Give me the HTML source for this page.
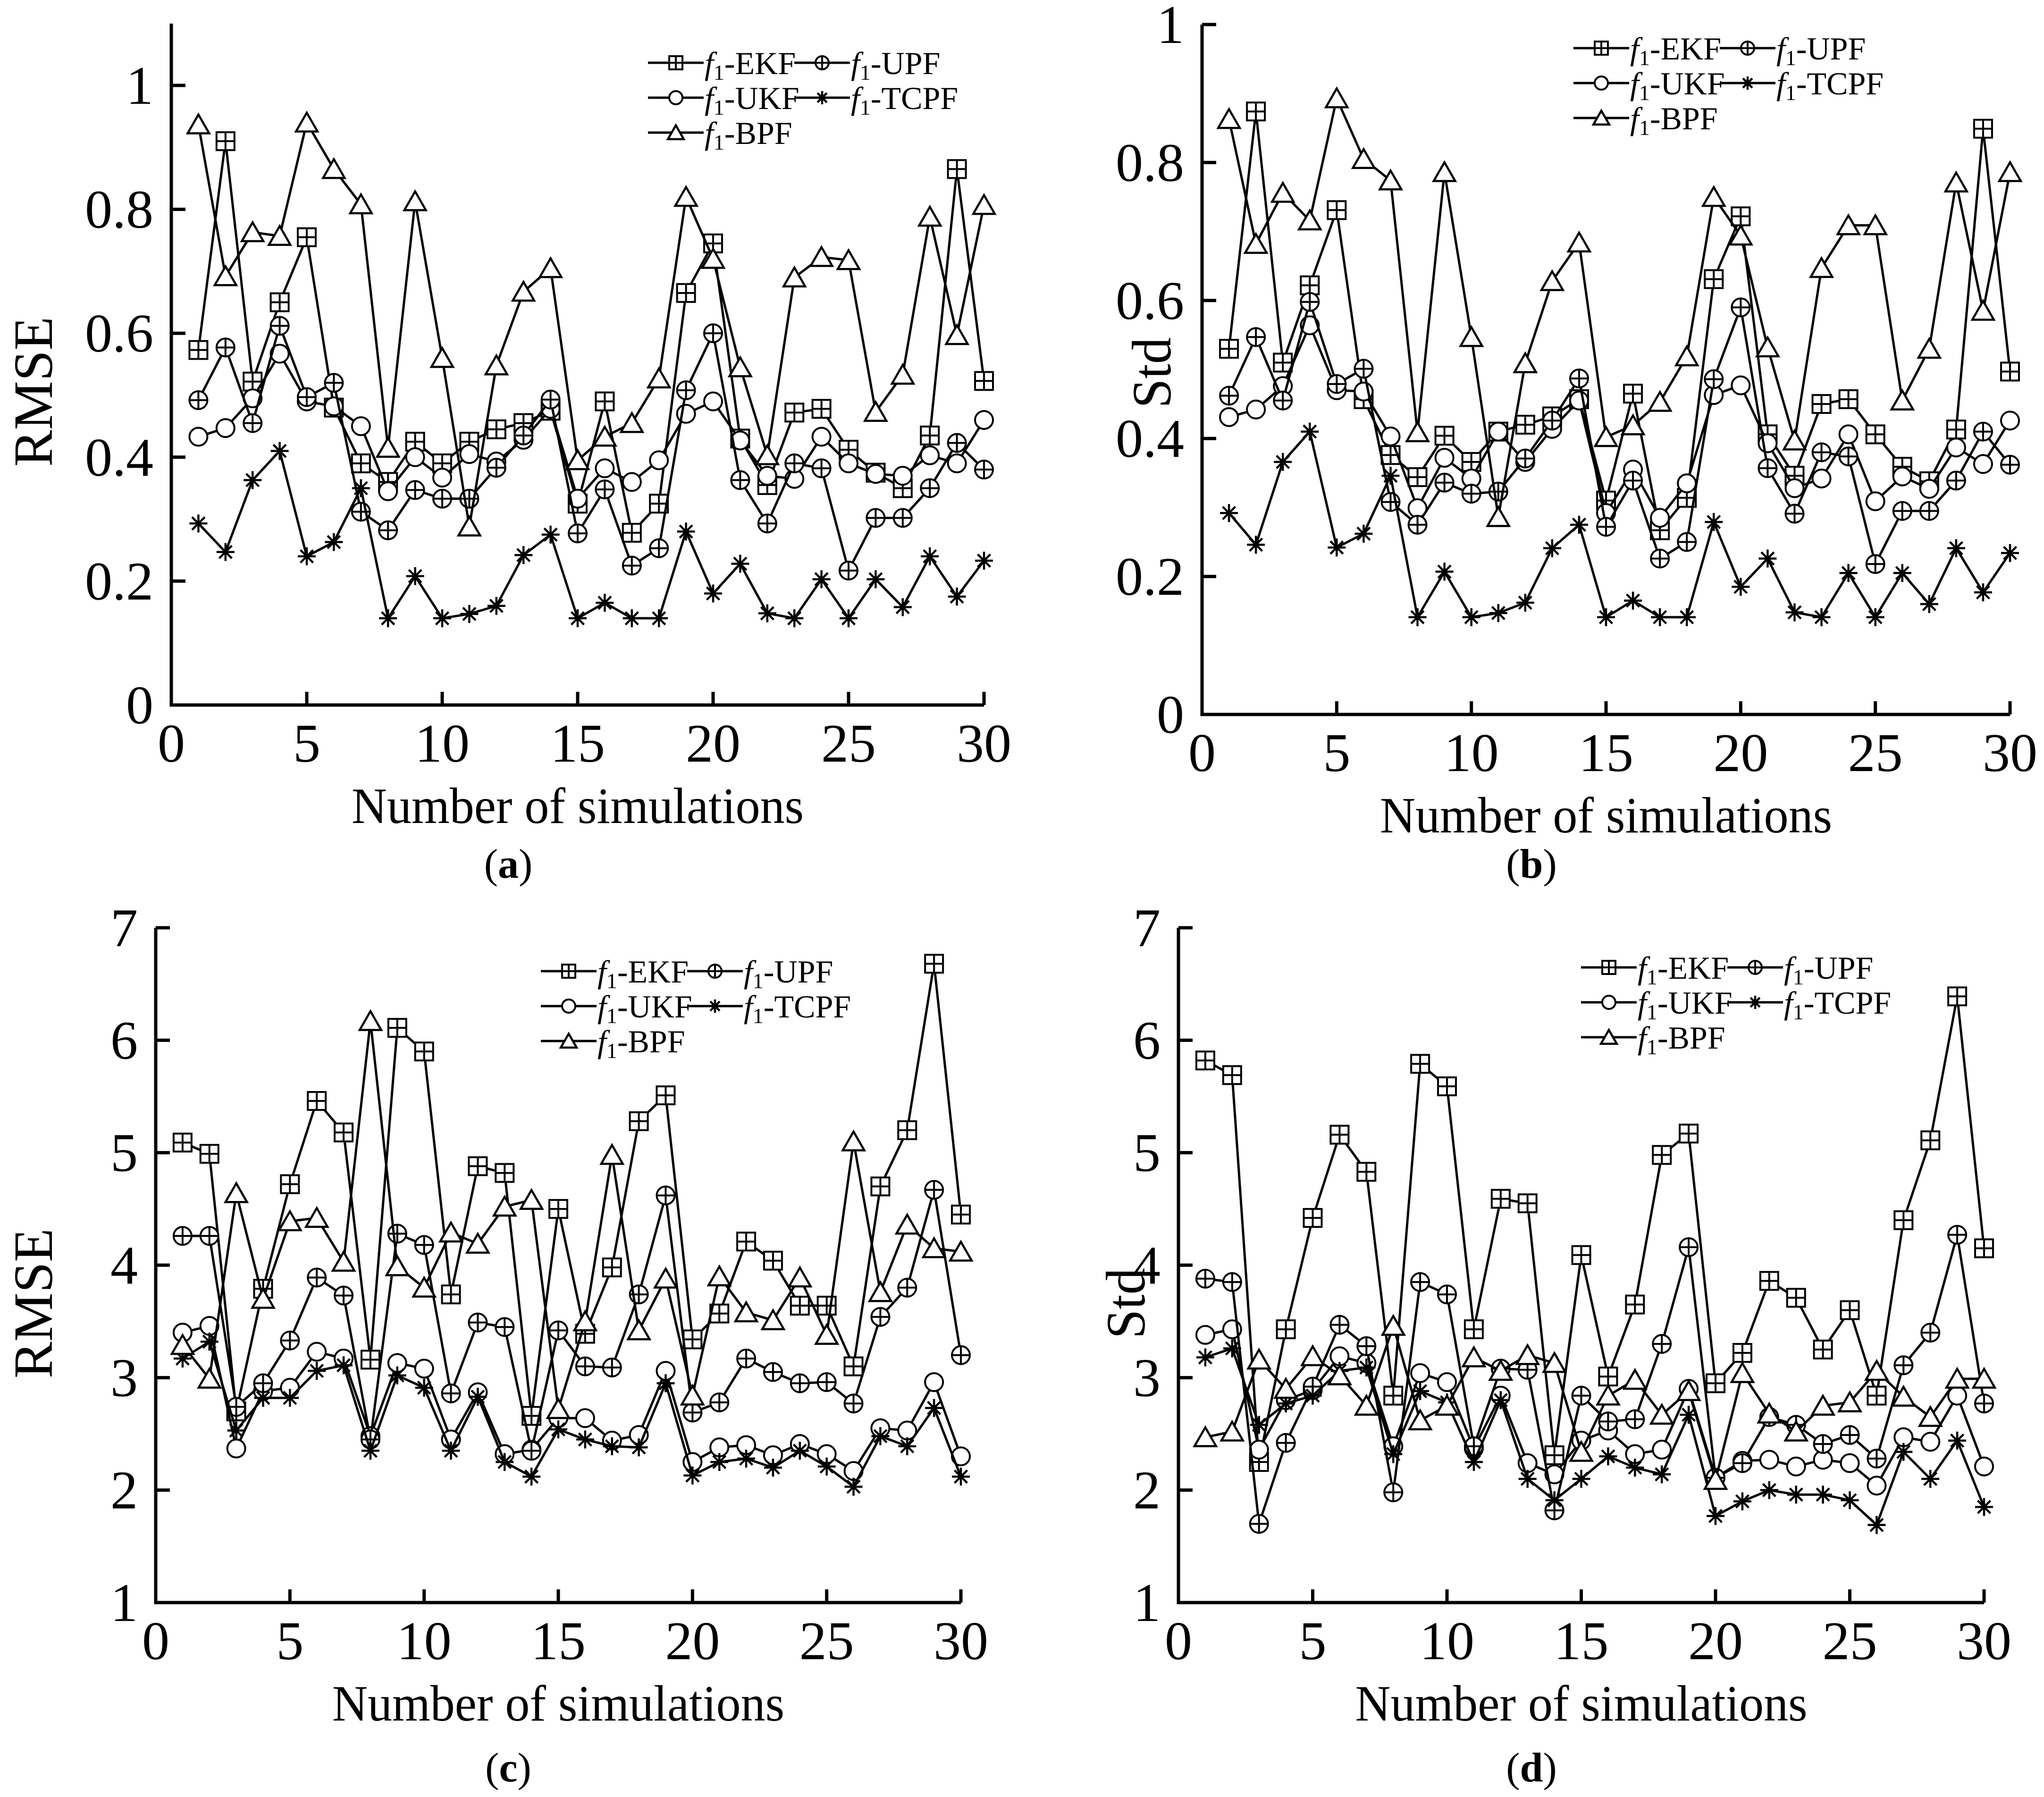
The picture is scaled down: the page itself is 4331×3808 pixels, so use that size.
<!DOCTYPE html>
<html><head><meta charset="utf-8"><style>
html,body{margin:0;padding:0;background:#fff;}
svg{display:block;font-family:"Liberation Serif",serif;}
</style></head><body>
<svg id="fig" width="4331" height="3808" viewBox="0 0 4331 3808" xmlns="http://www.w3.org/2000/svg"></svg>
<script>
// ---- data ----
const simIndex = [1,2,3,4,5,6,7,8,9,10,11,12,13,14,15,16,17,18,19,20,21,22,23,24,25,26,27,28,29,30];
const aEKF = [0.573,0.91,0.522,0.65,0.755,0.48,0.39,0.36,0.425,0.39,0.425,0.445,0.455,0.475,0.325,0.49,0.278,0.325,0.665,0.745,0.43,0.355,0.472,0.478,0.412,0.375,0.35,0.435,0.865,0.523];
const aUKF = [0.433,0.447,0.495,0.567,0.49,0.482,0.45,0.345,0.4,0.367,0.405,0.393,0.428,0.478,0.333,0.382,0.36,0.395,0.47,0.49,0.427,0.37,0.365,0.433,0.39,0.373,0.37,0.403,0.39,0.46];
const aUPF = [0.492,0.577,0.455,0.612,0.497,0.52,0.312,0.282,0.347,0.333,0.333,0.383,0.435,0.493,0.277,0.348,0.225,0.253,0.508,0.6,0.363,0.293,0.39,0.382,0.217,0.302,0.302,0.35,0.423,0.38];
const aTCPF = [0.293,0.247,0.363,0.41,0.24,0.263,0.35,0.14,0.208,0.14,0.147,0.16,0.242,0.275,0.14,0.165,0.14,0.14,0.28,0.18,0.228,0.148,0.14,0.203,0.14,0.203,0.158,0.24,0.175,0.233];
const aBPF = [0.937,0.692,0.763,0.757,0.94,0.865,0.808,0.415,0.813,0.56,0.288,0.548,0.667,0.705,0.395,0.433,0.455,0.527,0.82,0.72,0.545,0.403,0.69,0.723,0.718,0.473,0.533,0.788,0.597,0.807];

const bEKF = [0.53,0.874,0.51,0.622,0.731,0.457,0.376,0.344,0.404,0.366,0.41,0.42,0.432,0.457,0.31,0.465,0.267,0.314,0.631,0.722,0.406,0.346,0.45,0.457,0.406,0.359,0.338,0.413,0.849,0.497];
const bUKF = [0.431,0.442,0.476,0.564,0.47,0.468,0.403,0.299,0.372,0.342,0.41,0.366,0.414,0.455,0.292,0.355,0.285,0.335,0.463,0.477,0.393,0.328,0.342,0.406,0.309,0.345,0.327,0.387,0.363,0.426];
const bUPF = [0.462,0.547,0.455,0.598,0.479,0.501,0.308,0.275,0.336,0.32,0.323,0.371,0.426,0.487,0.272,0.339,0.226,0.25,0.486,0.59,0.357,0.291,0.38,0.374,0.218,0.295,0.295,0.339,0.41,0.362];
const bTCPF = [0.292,0.246,0.366,0.41,0.242,0.262,0.346,0.141,0.207,0.141,0.147,0.162,0.241,0.275,0.141,0.165,0.141,0.141,0.279,0.185,0.226,0.148,0.141,0.205,0.141,0.205,0.16,0.241,0.177,0.234];
const bBPF = [0.863,0.682,0.756,0.716,0.893,0.805,0.774,0.409,0.786,0.547,0.286,0.509,0.628,0.684,0.402,0.419,0.453,0.519,0.75,0.694,0.532,0.397,0.647,0.709,0.709,0.455,0.53,0.771,0.585,0.786];

const cEKF = [5.09,4.99,2.7,3.79,4.72,5.46,5.18,3.16,6.11,5.9,3.74,4.88,4.82,2.66,4.5,3.39,3.98,5.28,5.51,3.34,3.57,4.21,4.04,3.64,3.64,3.1,4.7,5.2,6.68,4.45];
const cUKF = [3.4,3.46,2.37,2.88,2.91,3.23,3.17,2.48,3.13,3.08,2.45,2.87,2.32,2.36,2.64,2.64,2.44,2.49,3.06,2.25,2.38,2.4,2.31,2.41,2.32,2.17,2.55,2.53,2.96,2.3];
const cUPF = [4.26,4.26,2.74,2.95,3.33,3.89,3.73,2.45,4.28,4.18,2.86,3.49,3.45,2.35,3.42,3.1,3.09,3.74,4.62,2.69,2.78,3.17,3.05,2.95,2.96,2.77,3.54,3.8,4.67,3.2];
const cTCPF = [3.17,3.32,2.53,2.82,2.82,3.06,3.11,2.35,3.02,2.91,2.35,2.83,2.25,2.12,2.54,2.45,2.39,2.38,2.95,2.13,2.25,2.28,2.2,2.35,2.21,2.03,2.48,2.39,2.73,2.12];
const cBPF = [3.29,2.99,4.64,3.7,4.39,4.42,4.03,6.17,3.99,3.8,4.29,4.19,4.52,4.58,2.72,3.5,4.98,3.42,3.88,2.84,3.9,3.58,3.51,3.89,3.38,5.1,3.76,4.36,4.15,4.12];

const dEKF = [5.82,5.69,2.25,3.43,4.42,5.16,4.83,2.84,5.79,5.59,3.43,4.59,4.55,2.31,4.09,3.01,3.65,4.98,5.17,2.95,3.22,3.86,3.71,3.25,3.6,2.84,4.4,5.11,6.39,4.15];
const dUKF = [3.38,3.43,2.36,2.8,2.89,3.19,3.13,2.39,3.04,2.96,2.37,2.84,2.24,2.14,2.44,2.53,2.32,2.36,2.9,2.11,2.26,2.27,2.21,2.27,2.24,2.04,2.47,2.43,2.84,2.21];
const dUPF = [3.88,3.85,1.7,2.42,2.92,3.47,3.28,1.98,3.85,3.74,2.39,3.08,3.07,1.82,2.84,2.61,2.63,3.3,4.16,2.11,2.24,2.65,2.58,2.41,2.49,2.28,3.11,3.4,4.27,2.77];
const dTCPF = [3.18,3.26,2.58,2.77,2.84,3.06,3.09,2.32,2.88,2.78,2.25,2.8,2.1,1.91,2.1,2.3,2.2,2.14,2.67,1.77,1.9,2.0,1.96,1.96,1.91,1.69,2.34,2.1,2.44,1.85];
const dBPF = [2.47,2.52,3.16,2.9,3.19,3.02,2.75,3.46,2.62,2.75,3.18,3.06,3.2,3.13,2.34,2.84,2.98,2.67,2.88,2.09,3.04,2.68,2.52,2.75,2.78,3.06,2.83,2.65,2.99,2.99];

const xTicks = [0,5,10,15,20,25,30];
const yTicksAB = [0,0.2,0.4,0.6,0.8,1];
const yTickLabelsAB = ["0","0.2","0.4","0.6","0.8","1"];
const yTicksCD = [1,2,3,4,5,6,7];
const yTickLabelsCD = ["1","2","3","4","5","6","7"];
const seriesNames = ["EKF","UKF","UPF","TCPF","BPF"];

// ---- drawing ----
const NS = "http://www.w3.org/2000/svg";
const svg = document.getElementById("fig");
function mk(tag, attrs, parent){
  const e = document.createElementNS(NS, tag);
  for (const k in attrs) e.setAttribute(k, attrs[k]);
  (parent||svg).appendChild(e);
  return e;
}

function marker(g, type, x, y, s){
  const h = s/2;
  let el;
  if (type==="EKF"){
    el = mk("g", {}, g);
    mk("rect",{x:x-h,y:y-h,width:s,height:s,fill:"#fff",stroke:"#000","stroke-width":4},el);
    mk("line",{x1:x,y1:y-h,x2:x,y2:y+h,stroke:"#000","stroke-width":4},el);
    mk("line",{x1:x-h,y1:y,x2:x+h,y2:y,stroke:"#000","stroke-width":4},el);
  } else if (type==="UPF"){
    el = mk("g", {}, g);
    mk("circle",{cx:x,cy:y,r:h,fill:"#fff",stroke:"#000","stroke-width":4},el);
    mk("line",{x1:x,y1:y-h,x2:x,y2:y+h,stroke:"#000","stroke-width":4},el);
    mk("line",{x1:x-h,y1:y,x2:x+h,y2:y,stroke:"#000","stroke-width":4},el);
  } else if (type==="UKF"){
    el = mk("circle",{cx:x,cy:y,r:h,fill:"#fff",stroke:"#000","stroke-width":4},g);
  } else if (type==="TCPF"){
    el = mk("g", {}, g);
    for (let a=0;a<4;a++){
      const ang = Math.PI/2 + a*Math.PI/4;
      const dx = Math.cos(ang)*h, dy = Math.sin(ang)*h;
      mk("line",{x1:x-dx,y1:y-dy,x2:x+dx,y2:y+dy,stroke:"#000","stroke-width":4.5},el);
    }
  } else {
    const w = s*1.2/2, t = s*0.55;
    el = mk("polygon",{points:`${x},${y-t} ${x-w},${y+t*0.9} ${x+w},${y+t*0.9}`,fill:"#fff",stroke:"#000","stroke-width":4.5},g);
  }
  return el;
}

function panel(cfg){
  const P = mk("g",{});
  
  
  const xs = v => cfg.x0 + (v - 0) / 30 * (cfg.x30 - cfg.x0);
  const ys = v => cfg.yb - (v - cfg.ymin) / (cfg.ymaxTick - cfg.ymin) * (cfg.yb - cfg.ytop);
  const ax = mk("g",{},P);
  
  
  mk("polyline",{points:`${cfg.x0},${cfg.axTop} ${cfg.x0},${cfg.yb} ${cfg.x30},${cfg.yb}`,fill:"none",stroke:"#000","stroke-width":7},ax);
  xTicks.forEach(t=>{
    const X = xs(t);
    if (t>0) mk("line",{x1:X,y1:cfg.yb,x2:X,y2:cfg.yb-28,stroke:"#000","stroke-width":7},ax);
    const tl = mk("text",{x:X,y:cfg.yb+120,"font-size":116,"text-anchor":"middle"},ax);
    
    
    tl.textContent = t;
  });
  cfg.yTicks.forEach((t,i)=>{
    const Y = ys(t);
    if (i>0) mk("line",{x1:cfg.x0,y1:Y,x2:cfg.x0+30,y2:Y,stroke:"#000","stroke-width":7},ax);
    const tl = mk("text",{x:cfg.x0-38,y:Y+39,"font-size":116,"text-anchor":"end"},ax);
    
    
    tl.textContent = cfg.yLabels[i];
  });
  const xt = mk("text",{x:(cfg.x0+cfg.x30)/2,y:cfg.yb+250,"font-size":108,"text-anchor":"middle",textLength:958,lengthAdjust:"spacingAndGlyphs"},P);
  
  
  xt.textContent = "Number of simulations";
  const yt = mk("text",{x:0,y:0,"font-size":118,"text-anchor":"middle",textLength:cfg.ytlen,lengthAdjust:"spacingAndGlyphs",transform:`translate(${cfg.ylx},${cfg.yly}) rotate(-90)`},P);
  
  
  yt.textContent = cfg.ytitle;
  const cap = mk("text",{x:cfg.capx,y:cfg.capy,"font-size":88,"text-anchor":"middle"},P);
  
  
  cap.innerHTML = `(<tspan font-weight="bold">${cfg.letter}</tspan>)`;

  const data = cfg.data;
  seriesNames.forEach(nm=>{
    const g = mk("g",{},P);
    
    
    const pts = data[nm].map((v,i)=>`${xs(simIndex[i])},${ys(v)}`).join(" ");
    const ln = mk("polyline",{points:pts,fill:"none",stroke:"#000","stroke-width":5,"stroke-linejoin":"miter"},g);
    
    
    data[nm].forEach((v,i)=>{
      const m = marker(g, nm, xs(simIndex[i]), ys(v), 38);
      
      
    });
  });

  const L = mk("g",{},P);
  
  
  const entries = [["EKF",0,0],["UPF",1,0],["UKF",0,1],["TCPF",1,1],["BPF",0,2]];
  entries.forEach(([nm,c,r])=>{
    const lx = cfg.legX + c*310, ly = cfg.legY + r*74;
    const eg = mk("g",{},L);
    
    
    mk("line",{x1:lx,y1:ly,x2:lx+118,y2:ly,stroke:"#000","stroke-width":5},eg);
    marker(eg, nm, lx+59, ly, 28);
    const t = mk("text",{x:lx+120,y:ly+24,"font-size":68},eg);
    t.innerHTML = `<tspan font-style="italic">f</tspan><tspan font-size="46" dy="12">1</tspan><tspan dy="-12">-${nm}</tspan>`;
  });
}

panel({name:"panel-a",letter:"a",x0:363,x30:2085,yb:1494,ymin:0,ymaxTick:1,ytop:181,axTop:50,
  yTicks:yTicksAB,yLabels:yTickLabelsAB,ytitle:"RMSE",ytlen:318,ylx:110,yly:830,capx:1077,capy:1860,
  legX:1373,legY:133,data:{EKF:aEKF,UKF:aUKF,UPF:aUPF,TCPF:aTCPF,BPF:aBPF}});
panel({name:"panel-b",letter:"b",x0:2547,x30:4259,yb:1514,ymin:0,ymaxTick:1,ytop:52,axTop:52,
  yTicks:yTicksAB,yLabels:yTickLabelsAB,ytitle:"Std",ytlen:150,ylx:2480,yly:790,capx:3245,capy:1860,
  legX:3334,legY:102,data:{EKF:bEKF,UKF:bUKF,UPF:bUPF,TCPF:bTCPF,BPF:bBPF}});
panel({name:"panel-c",letter:"c",x0:330,x30:2036,yb:3396,ymin:1,ymaxTick:7,ytop:1966,axTop:1966,
  yTicks:yTicksCD,yLabels:yTickLabelsCD,ytitle:"RMSE",ytlen:318,ylx:110,yly:2762,capx:1077,capy:3775,
  legX:1146,legY:2058,data:{EKF:cEKF,UKF:cUKF,UPF:cUPF,TCPF:cTCPF,BPF:cBPF}});
panel({name:"panel-d",letter:"d",x0:2497,x30:4204,yb:3396,ymin:1,ymaxTick:7,ytop:1966,axTop:1966,
  yTicks:yTicksCD,yLabels:yTickLabelsCD,ytitle:"Std",ytlen:150,ylx:2425,yly:2762,capx:3245,capy:3775,
  legX:3350,legY:2050,data:{EKF:dEKF,UKF:dUKF,UPF:dUPF,TCPF:dTCPF,BPF:dBPF}});
</script>
</body></html>
